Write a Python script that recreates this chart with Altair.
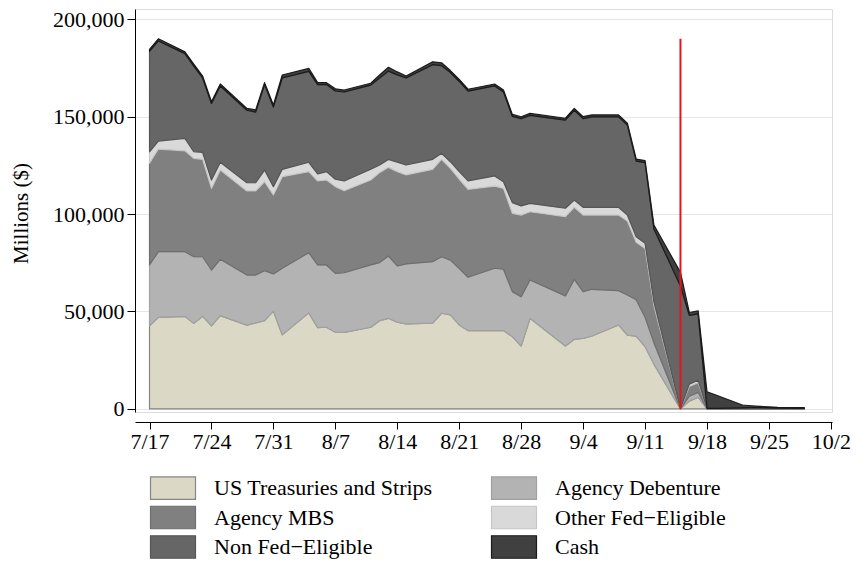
import altair as alt
import pandas as pd

# ---- data (millions of $) ----
dates = [
    "2008-07-17", "2008-07-18", "2008-07-21", "2008-07-22", "2008-07-23", "2008-07-24", "2008-07-25",
    "2008-07-28", "2008-07-29", "2008-07-30", "2008-07-31", "2008-08-01", "2008-08-04", "2008-08-05",
    "2008-08-06", "2008-08-07", "2008-08-08", "2008-08-11", "2008-08-12", "2008-08-13", "2008-08-14",
    "2008-08-15", "2008-08-18", "2008-08-19", "2008-08-20", "2008-08-21", "2008-08-22", "2008-08-25",
    "2008-08-26", "2008-08-27", "2008-08-28", "2008-08-29", "2008-09-02", "2008-09-03", "2008-09-04",
    "2008-09-05", "2008-09-08", "2008-09-09", "2008-09-10", "2008-09-11", "2008-09-12", "2008-09-15",
    "2008-09-16", "2008-09-17", "2008-09-18", "2008-09-19", "2008-09-22", "2008-09-23", "2008-09-24",
    "2008-09-25", "2008-09-26", "2008-09-29",
]

treasuries = [
    42600, 47000, 47500, 43900, 47600, 42600, 47900, 43000, 44100, 45300, 50200,
    38000, 49300, 41700, 41900, 39300, 39300, 41900, 45300, 46500, 44500, 43600,
    44000, 49100, 48300, 43100, 40200, 40200, 40200, 37100, 32300, 46500,
    32300, 35800, 36200, 37400, 43100, 37900, 37400, 32000, 23000,
    0, 4000, 6000, 0, 0, 0, 0, 0, 0, 0, 0,
]
debenture = [
    31300, 33700, 33200, 34200, 30500, 28700, 28900, 25700, 24600, 25600, 19100,
    34200, 30900, 32200, 32000, 30300, 30600, 32000, 29800, 32000, 28900, 30800,
    31600, 29000, 28100, 28900, 27400, 32000, 31500, 23100, 25300, 19700,
    25700, 30700, 24000, 24000, 17600, 20600, 18600, 15000, 11000,
    0, 2500, 2500, 0, 0, 0, 0, 0, 0, 0, 0,
]
mbs = [
    52200, 52700, 51800, 50500, 50000, 41900, 45800, 43200, 43200, 45700, 40500,
    47000, 41600, 43100, 43600, 44500, 42100, 43600, 46200, 45500, 48400, 45700,
    47400, 50000, 47100, 45900, 45100, 42200, 41500, 40200, 41900, 35000,
    40700, 37000, 39300, 38100, 38800, 38000, 29500, 35400, 19000,
    0, 5000, 5000, 0, 0, 0, 0, 0, 0, 0, 0,
]
other_fed = [
    5900, 4100, 6400, 3400, 3600, 4300, 4000, 4200, 4200, 6000, 4300,
    3800, 4800, 3600, 4300, 3800, 5000, 5500, 3900, 4100, 4800, 5100,
    5100, 3100, 3400, 3900, 4400, 5200, 3400, 5500, 4700, 4300,
    4300, 3700, 4000, 4000, 4000, 3000, 2900, 2600, 2000,
    0, 1200, 1200, 0, 0, 0, 0, 0, 0, 0, 0,
]
non_fed = [
    51600, 51400, 43500, 44000, 38200, 39300, 39200, 37200, 36300, 43900, 40900,
    46900, 46700, 45900, 44700, 45300, 45700, 43200, 44700, 45300, 44900, 44700,
    48600, 45000, 45800, 46300, 46000, 46200, 46100, 44300, 44800, 45200,
    45200, 46100, 45500, 46400, 46400, 46200, 38800, 41400, 37400,
    63100, 35300, 34100, 300, 300, 500, 600, 600, 500, 400, 300,
]
cash = [
    1000, 1100, 900, 1000, 1000, 900, 1000, 1000, 1100, 1000, 1000,
    1500, 1500, 1000, 1000, 1100, 1000, 1000, 1500, 2000, 1500, 1000,
    1500, 1500, 1000, 1000, 1000, 1000, 1000, 1000, 1000, 1000,
    1000, 1000, 1000, 1000, 1000, 1000, 1000, 1100, 2000,
    7000, 1500, 1500, 8500, 6800, 1500, 1000, 700, 500, 400, 300,
]

# stacking order (bottom -> top)
series_names = [
    "US Treasuries and Strips",
    "Agency Debenture",
    "Agency MBS",
    "Other Fed\u2212Eligible",
    "Non Fed\u2212Eligible",
    "Cash",
]
fills = ["#dbd9c6", "#b3b3b3", "#808080", "#d9d9d9", "#666666", "#404040"]
strokes = ["#858585", "#a0a0a0", "#6e6e6e", "#c6c6c6", "#555555", "#1a1a1a"]

# legend order (legend is filled column by column: 3 rows x 2 columns)
legend_order = [0, 2, 4, 1, 3, 5]

tick_dates = [(7, 17), (7, 24), (7, 31), (8, 7), (8, 14), (8, 21), (8, 28),
              (9, 4), (9, 11), (9, 18), (9, 25), (10, 2)]
y_ticks = [0, 50000, 100000, 150000, 200000]

lehman_date = "2008-09-15"
lehman_top = 190000

# ---- long table ----
series_values = [treasuries, debenture, mbs, other_fed, non_fed, cash]
rows = []
for k, (name, vals) in enumerate(zip(series_names, series_values)):
    for d, v in zip(dates, vals):
        rows.append({"date": d + "T00:00:00", "value": v, "series": name, "k": k})
df = pd.DataFrame(rows)

rule_df = pd.DataFrame({"date": [lehman_date + "T00:00:00"], "y0": [0], "y1": [lehman_top]})

leg_domain = [series_names[i] for i in legend_order]
leg_fills = [fills[i] for i in legend_order]
leg_strokes = [strokes[i] for i in legend_order]

FONT = "Liberation Serif"
FS = 22

x_scale = alt.Scale(domain=[alt.DateTime(year=2008, month=7, date=15, hours=8, minutes=38),
                            alt.DateTime(year=2008, month=10, date=2, hours=3)])
y_scale = alt.Scale(domain=[-1600, 205300], nice=False, zero=False)

x_axis = alt.Axis(
    title=None,
    values=[alt.DateTime(year=2008, month=m, date=d) for m, d in tick_dates],
    format="%-m/%-d",
    grid=False,
    offset=10,
    tickSize=7,
    tickColor="black",
    domainColor="black",
    labelPadding=2,
    labelFont=FONT,
    labelFontSize=FS,
    labelColor="black",
    labelFlush=False,
    labelOverlap=False,
)
y_axis = alt.Axis(
    title="Millions ($)",
    values=y_ticks,
    format=",.0f",
    grid=True,
    gridColor="#e6e6e6",
    gridWidth=1.2,
    tickSize=8,
    tickColor="black",
    domainColor="black",
    labelPadding=3,
    labelFont=FONT,
    labelFontSize=FS,
    labelColor="black",
    titleFont=FONT,
    titleFontSize=FS - 1,
    titleFontWeight="normal",
    titleColor="black",
    titleAngle=270,
    titleX=-114,
    titleY=204,
    titleAlign="center",
    titleBaseline="middle",
)

legend_kw = dict(
    title=None,
    orient="none",
    legendX=26,
    legendY=467,
    columns=2,
    symbolType="M-2,-1H2V1H-2Z",
    symbolSize=506,
    symbolStrokeWidth=1.2,
    labelFont=FONT,
    labelFontSize=FS,
    labelColor="black",
    labelOffset=29,
    labelLimit=400,
    columnPadding=56,
    rowPadding=1.5,
)

area = alt.Chart(df).mark_area(strokeWidth=1.2, strokeJoin="round").encode(
    x=alt.X("date:T", scale=x_scale, axis=x_axis),
    y=alt.Y("value:Q", stack="zero", scale=y_scale, axis=y_axis),
    fill=alt.Fill("series:N", scale=alt.Scale(domain=leg_domain, range=leg_fills),
                  legend=alt.Legend(**legend_kw)),
    stroke=alt.Stroke("series:N", scale=alt.Scale(domain=leg_domain, range=leg_strokes),
                      legend=alt.Legend(**legend_kw)),
    order=alt.Order("k:Q", sort="ascending"),
)

rule = alt.Chart(rule_df).mark_rule(color="#e3151b", strokeWidth=2).encode(
    x="date:T",
    y="y0:Q",
    y2="y1:Q",
)

chart = alt.layer(area, rule).properties(
    width=697,
    height=403,
    autosize=alt.AutoSizeParams(type="none"),
    padding={"left": 127, "top": 1, "right": 24, "bottom": 150},
).configure_view(strokeWidth=0).configure(background="white")

chart.save("out.html", embed_options={"renderer": "svg", "actions": False})
